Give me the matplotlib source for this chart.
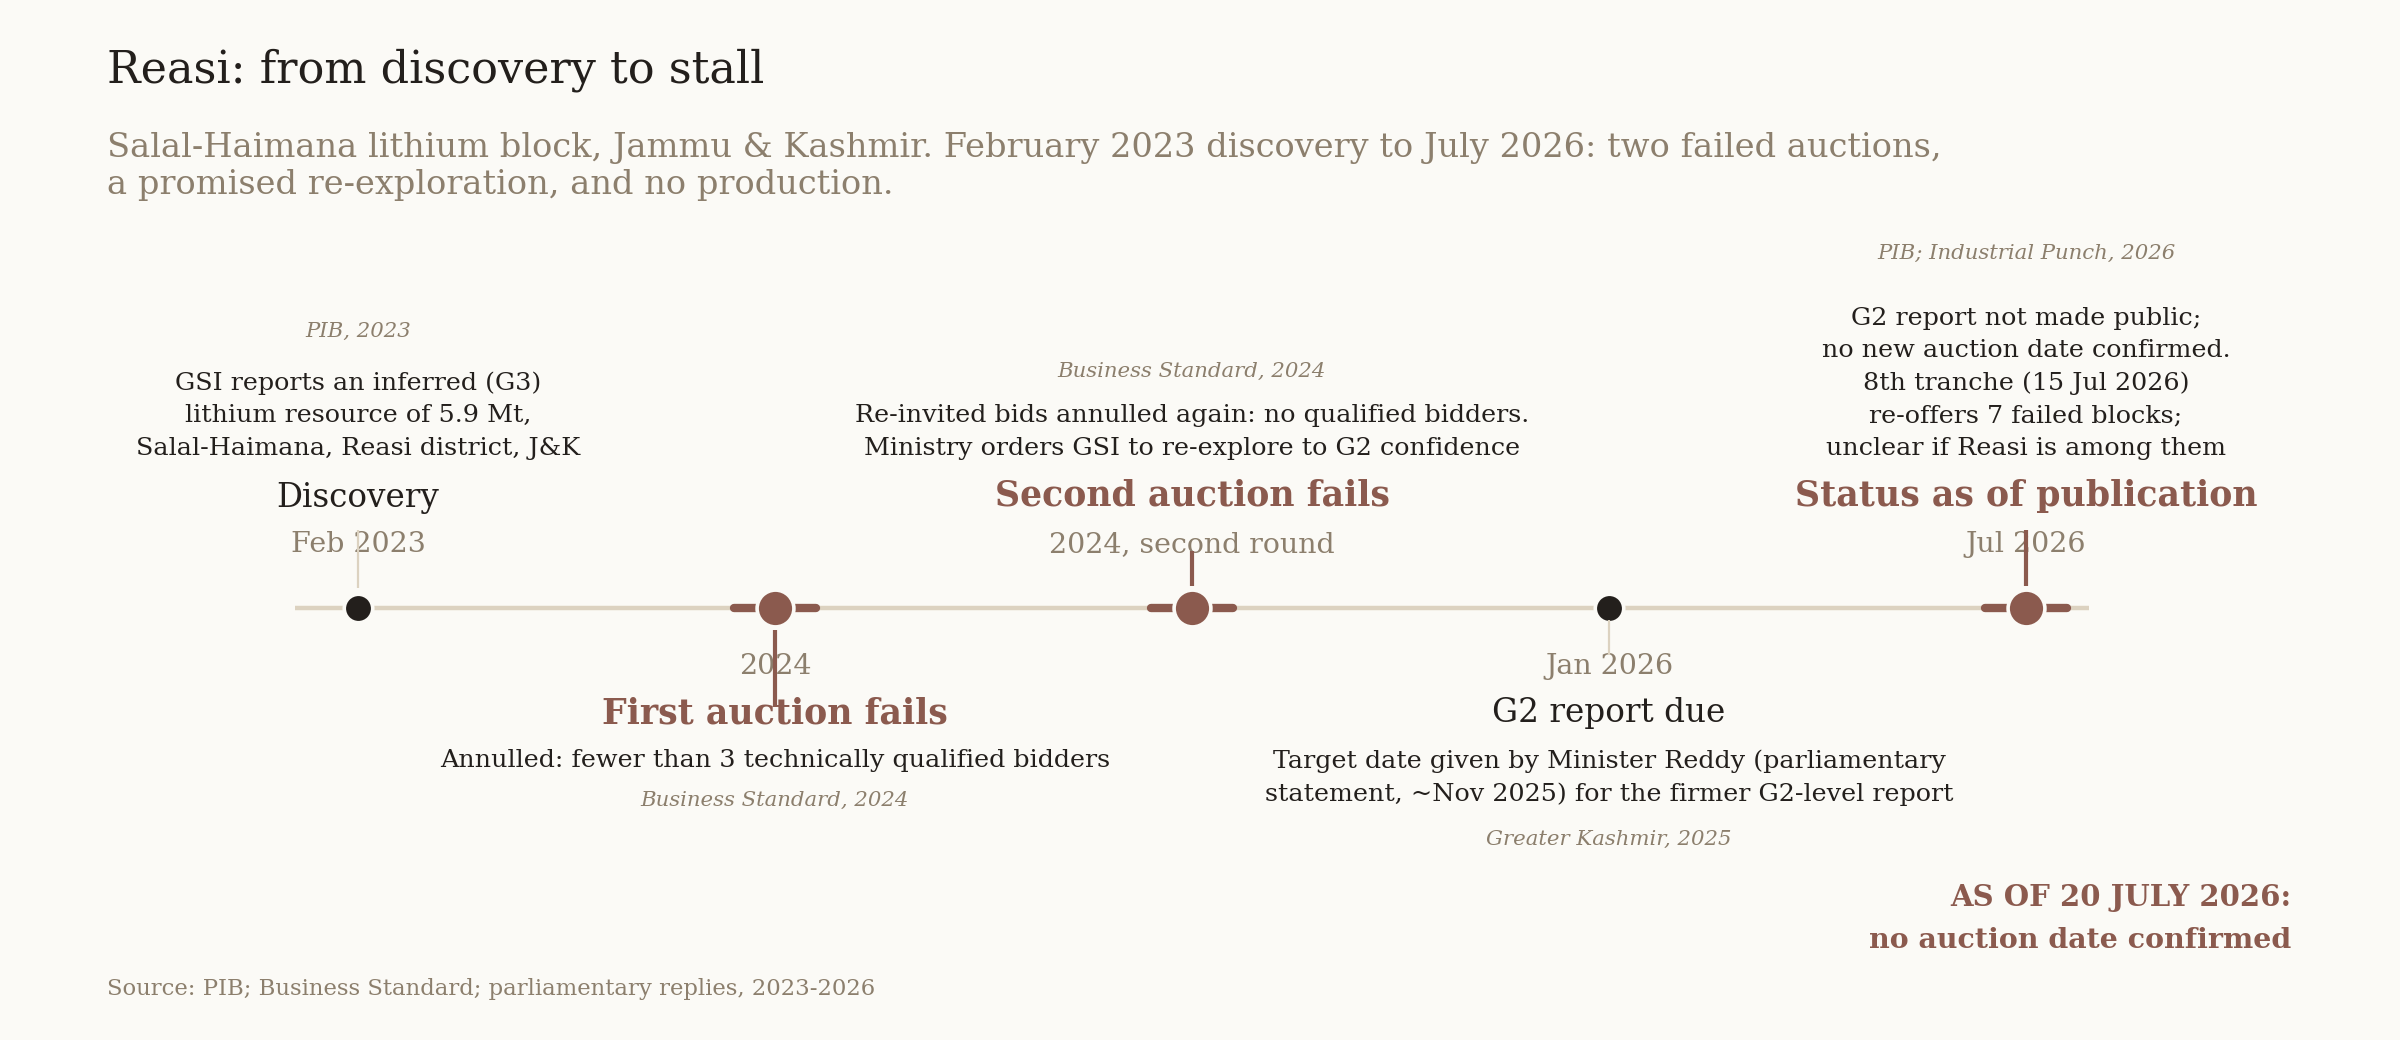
import matplotlib
matplotlib.use("Agg")
import matplotlib.pyplot as plt

# colours
BG = "#FBFAF6"
INK = "#231F1C"
MUTED = "#8C7F6D"
BROWN = "#8B5A4E"
RULE = "#DCD2C0"

plt.rcParams['font.family'] = ['DejaVu Serif']

# event data
dates = ["Feb 2023", "2024", "2024, second round", "Jan 2026", "Jul 2026"]
titles = ["Discovery", "First auction fails", "Second auction fails",
          "G2 report due", "Status as of publication"]
descs = [
    ["GSI reports an inferred (G3)", "lithium resource of 5.9 Mt,",
     "Salal-Haimana, Reasi district, J&K"],
    ["Annulled: fewer than 3 technically qualified bidders"],
    ["Re-invited bids annulled again: no qualified bidders.",
     "Ministry orders GSI to re-explore to G2 confidence"],
    ["Target date given by Minister Reddy (parliamentary",
     "statement, ~Nov 2025) for the firmer G2-level report"],
    ["G2 report not made public;", "no new auction date confirmed.",
     "8th tranche (15 Jul 2026)", "re-offers 7 failed blocks;",
     "unclear if Reasi is among them"],
]
sources = ["PIB, 2023", "Business Standard, 2024", "Business Standard, 2024",
           "Greater Kashmir, 2025", "PIB; Industrial Punch, 2026"]
is_failure = [False, True, True, False, True]
above = [True, False, True, False, True]

# layout (pixel offsets from the timeline)
source_gap = [52, 39, 44, 45, 65]

fig = plt.figure(figsize=(24, 10.4), dpi=100, facecolor=BG)
ax = fig.add_axes([0, 0, 1, 1])
ax.set_facecolor(BG)
ax.axis("off")
# 1 x unit = 417 px, first event at 358 px; y in px with timeline at 0
ax.set_xlim(-358 / 417, 4 + (2400 - 2026) / 417)
ax.set_ylim(-(1040 - 608), 608)

n = len(dates)
xs = list(range(n))
ax.plot([-0.15, n - 1 + 0.15], [0, 0], color=RULE, lw=3.2, zorder=1,
        solid_capstyle="butt")

for i in xs:
    up = above[i]
    s = 1 if up else -1
    fail = is_failure[i]

    # stems
    if fail:
        if up:
            stem = (22, 57 if i == 2 else 78)
        else:
            stem = (22, 99)
        ax.plot([i, i], [s * stem[0], s * stem[1]], color=BROWN, lw=3,
                zorder=5, solid_capstyle="butt")
    else:
        stem = (20, 78) if up else (12, 47)
        ax.plot([i, i], [s * stem[0], s * stem[1]], color=RULE, lw=1.6,
                zorder=5, solid_capstyle="butt")

    # markers
    if fail:
        ax.plot([i - 0.098, i + 0.098], [0, 0], color=BROWN, lw=6,
                solid_capstyle="round", zorder=3)
        ax.plot(i, 0, "o", ms=26.5, color=BROWN, mec=BG, mew=2.6, zorder=4)
    else:
        ax.plot(i, 0, "o", ms=20.5, color=INK, mec=BG, mew=2.6, zorder=4)

    # date
    ax.text(i, s * (63 if up else 58), dates[i], ha="center", va="center",
            fontsize=20.5, color=MUTED, zorder=2)
    # title
    if fail:
        ax.text(i, s * (112 if up else 105), titles[i], ha="center",
                va="center", fontsize=25, fontweight="bold", color=BROWN,
                zorder=2)
    else:
        ax.text(i, s * (110 if up else 105), titles[i], ha="center",
                va="center", fontsize=23.5, color=INK, zorder=2)
    # description lines
    lines = descs[i]
    if up:
        ys = [160 + 32.5 * (len(lines) - 1 - k) for k in range(len(lines))]
    else:
        ys = [-153 - 33 * k for k in range(len(lines))]
    for y, line in zip(ys, lines):
        ax.text(i, y, line, ha="center", va="center", fontsize=18.3,
                color=INK, zorder=2)
    # source
    sy = max(ys) + source_gap[i] if up else min(ys) - source_gap[i]
    ax.text(i, sy, sources[i], ha="center", va="center", fontsize=15.3,
            style="italic", color=MUTED, zorder=2)

# header
fig.text(107 / 2400, 1 - 70 / 1040, "Reasi: from discovery to stall",
         fontsize=32, color=INK, va="center", ha="left")
fig.text(107 / 2400, 1 - 148 / 1040,
         "Salal-Haimana lithium block, Jammu & Kashmir. February 2023 "
         "discovery to July 2026: two failed auctions,",
         fontsize=24.2, color=MUTED, va="center", ha="left")
fig.text(107 / 2400, 1 - 185 / 1040,
         "a promised re-exploration, and no production.",
         fontsize=24.2, color=MUTED, va="center", ha="left")

# status note
fig.text(2291 / 2400, 1 - 898 / 1040, "AS OF 20 JULY 2026:", fontsize=21,
         fontweight="bold", color=BROWN, ha="right", va="center")
fig.text(2291 / 2400, 1 - 940 / 1040, "no auction date confirmed",
         fontsize=20.5, fontweight="bold", color=BROWN, ha="right",
         va="center")

# footer
fig.text(107 / 2400, 1 - 989 / 1040,
         "Source: PIB; Business Standard; parliamentary replies, 2023-2026",
         fontsize=16.4, color=MUTED, ha="left", va="center")

fig.savefig("out.png", dpi=100, facecolor=BG)
